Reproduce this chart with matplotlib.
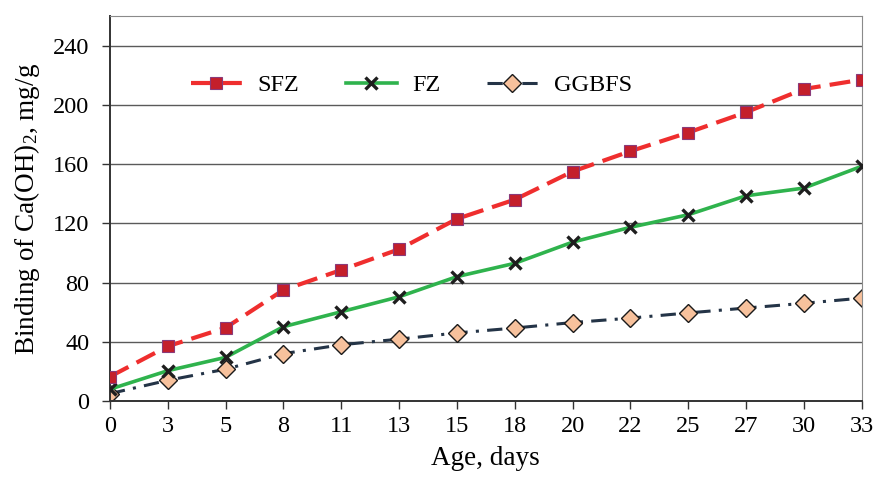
import numpy as np
import matplotlib
matplotlib.use("Agg")
import matplotlib.pyplot as plt

plt.rcParams['font.family'] = ['Liberation Serif', 'DejaVu Serif']
plt.rcParams['mathtext.default'] = 'regular'

# Data
ages = ['0', '3', '5', '8', '11', '13', '15', '18', '20', '22', '25', '27', '30', '33']
sfz = [16.5, 37, 49.5, 75, 88.5, 102.5, 123, 136, 155, 168.7, 181.3, 195, 210.7, 217]
fz = [8, 20.5, 29.5, 50.2, 60.3, 70.4, 84, 93, 107.3, 117.3, 125.8, 138.6, 143.8, 158.5]
ggbfs = [5, 14, 21.5, 32, 38, 41.8, 46, 49.3, 53, 56, 59.5, 62.8, 66, 69.5]

fig = plt.figure(figsize=(8.75, 4.78), dpi=100)
ax = fig.add_axes([0.1257, 0.161, 0.859, 0.8055])

x = np.arange(len(ages))
ax.plot(x, sfz, color='#ef2e2e', lw=3, dashes=(5, 2.2), marker='s', ms=8,
        mfc='#c41f2b', mec='#8a3a7a', mew=0.8, label='SFZ', zorder=4)
ax.plot(x, fz, color='#2fb34d', lw=2.6, marker='x', ms=9, mec='#1e1e1e',
        mew=2.4, label='FZ', zorder=3)
ax.plot(x, ggbfs, color='#243447', lw=2.2, dashes=(5, 2.7, 1, 2.7), marker='D',
        ms=9, mfc='#f7c19c', mec='#1a1a1a', mew=1.0, label='GGBFS', zorder=2)

ax.set_xlim(0, len(ages) - 1)
ax.set_ylim(0, 260)
ax.set_xticks(x)
ax.set_xticklabels(ages)
ax.set_yticks(np.arange(0, 241, 40))
ax.tick_params(axis='both', labelsize=17.5, length=6, width=1, color='#333333')
ax.tick_params(axis='x', pad=5)
ax.tick_params(axis='y', pad=9)

for v in range(40, 241, 40):
    ax.axhline(v, color='#5a5a5a', lw=1, zorder=1)

ax.spines['left'].set_color('#333333')
ax.spines['bottom'].set_color('#333333')
ax.spines['left'].set_linewidth(1.4)
ax.spines['bottom'].set_linewidth(1.4)
ax.spines['top'].set_color('#8a8a8a')
ax.spines['right'].set_color('#8a8a8a')

ax.set_ylabel('Binding of Ca(OH)$_2$, mg/g', fontsize=19.5, labelpad=8)
ax.set_xlabel('Age, days', fontsize=19.5, labelpad=6)

ax.legend(loc='upper center', bbox_to_anchor=(0.401, 0.905), ncol=3, frameon=False,
          fontsize=17.5, handlelength=2.1, columnspacing=1.9, handletextpad=0.65)

fig.savefig('out.png', dpi=100)
